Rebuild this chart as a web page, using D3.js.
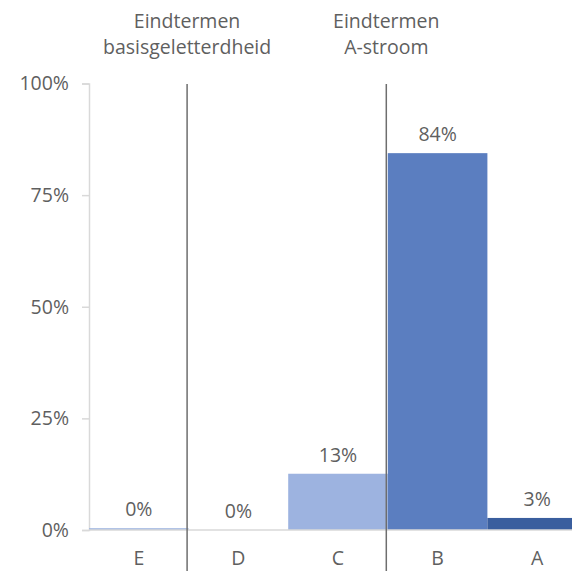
<!DOCTYPE html>
<html>
<head>
<meta charset="utf-8">
<script src="https://cdn.jsdelivr.net/npm/d3@7"></script>
<style>
  body { margin: 0; background: #fff; }
  svg text { font-family: "Open Sans", sans-serif; font-weight: 400; fill: #5f5f5f; }
</style>
</head>
<body>
<svg width="572" height="571"></svg>
<script>
const categories = ["E", "D", "C", "B", "A"];
const values = [0.4, 0, 12.6, 84.4, 2.7];
const valueLabels = ["0%", "0%", "13%", "84%", "3%"];
const barColors = ["#9db3e0", "#9db3e0", "#9db3e0", "#5b7ec0", "#3a5e9e"];
const yTicks = [0, 25, 50, 75, 100];
const groups = [
  { lines: ["Eindtermen", "basisgeletterdheid"], after: "D" },
  { lines: ["Eindtermen", "A-stroom"], after: "B" }
];

const svg = d3.select("svg");
const margin = { left: 89, top: 83.5 };
const baseY = 530;
const fontSize = "19.5px";

const xScale = d3.scaleBand().domain(categories).range([margin.left, 587]).padding(0);
const yScale = d3.scaleLinear().domain([0, 100]).range([baseY, margin.top]);

// y axis
const yAxisG = svg.append("g").attr("transform", `translate(${margin.left},0)`);
yAxisG.call(d3.axisLeft(yScale).tickValues(yTicks).tickSize(7).tickPadding(13).tickFormat(d => d + "%"));
yAxisG.select(".domain").attr("stroke", "#d9d9d9").attr("stroke-width", 1.5);
yAxisG.selectAll(".tick line").attr("stroke", "#d9d9d9").attr("stroke-width", 1.5);
yAxisG.selectAll(".tick text").style("font-size", fontSize).attr("fill", "#5f5f5f");

// bars
const bars = svg.selectAll("g.bar")
  .data(categories)
  .enter()
  .append("g")
  .attr("class", "bar");

bars.append("rect")
  .attr("x", d => xScale(d))
  .attr("width", xScale.bandwidth())
  .attr("y", (d, i) => yScale(values[i]))
  .attr("height", (d, i) => baseY - yScale(values[i]))
  .attr("fill", (d, i) => barColors[i]);

bars.append("text")
  .attr("x", d => xScale(d) + xScale.bandwidth() / 2)
  .attr("y", (d, i) => yScale(values[i]) - 12)
  .attr("text-anchor", "middle")
  .style("font-size", fontSize)
  .text((d, i) => valueLabels[i]);

// baseline
svg.append("line")
  .attr("x1", margin.left)
  .attr("x2", 572)
  .attr("y1", baseY)
  .attr("y2", baseY)
  .attr("stroke", "#d9d9d9")
  .attr("stroke-width", 1.5);

// x axis labels
const xAxisG = svg.append("g").attr("transform", `translate(0,${baseY})`);
xAxisG.call(d3.axisBottom(xScale).tickSize(0).tickPadding(21));
xAxisG.select(".domain").remove();
xAxisG.selectAll(".tick text").style("font-size", fontSize).attr("fill", "#5f5f5f");

// group separators and headers
groups.forEach(g => {
  const lx = xScale(g.after) - 1.5;
  svg.append("line")
    .attr("x1", lx)
    .attr("x2", lx)
    .attr("y1", 84)
    .attr("y2", 571)
    .attr("stroke", "#6e6e6e")
    .attr("stroke-width", 1.5);
  const t = svg.append("text")
    .attr("x", lx)
    .attr("y", 28)
    .attr("text-anchor", "middle")
    .style("font-size", fontSize);
  g.lines.forEach((l, i) => {
    t.append("tspan").attr("x", lx).attr("dy", i === 0 ? 0 : 26).text(l);
  });
});
</script>
</body>
</html>
